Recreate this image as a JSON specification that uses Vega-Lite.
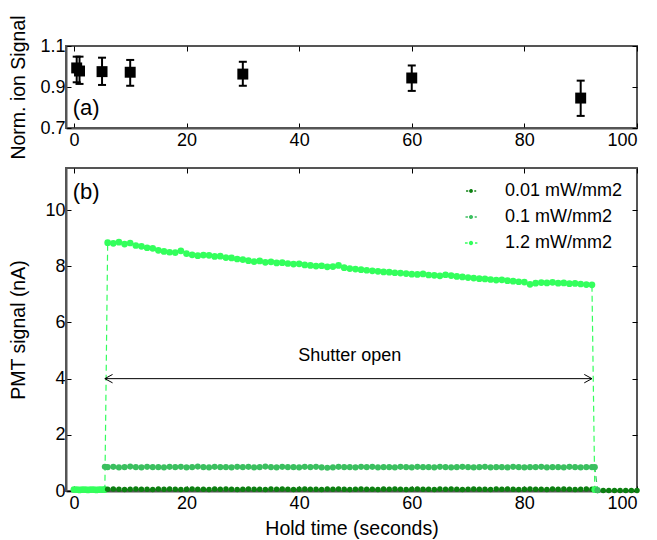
{
"$schema": "https://vega.github.io/schema/vega-lite/v6.json",
"background": "white",
"padding": {"left": 6, "top": 13, "right": 15, "bottom": 5},
"bounds": "flush",
"spacing": 40,
"config": {
  "font": "Liberation Sans",
  "view": {"stroke": "#555555", "strokeWidth": 2},
  "axis": {"labelFont": "Liberation Sans", "labelFontSize": 18, "labelColor": "black", "titleFont": "Liberation Sans", "titleFontSize": 19.5, "titleFontWeight": "normal", "titleColor": "black", "domainColor": "#555555", "domainWidth": 2, "tickColor": "black", "tickSize": -5, "tickWidth": 1, "grid": false, "labelPadding": 6},
  "axisX": {"labelPadding": 8, "titlePadding": 7}
},
"datasets": {
  "ion": [
    {"x": 0.5, "y": 0.993, "lo": 0.923, "hi": 1.048},
    {"x": 1, "y": 0.978, "lo": 0.915, "hi": 1.048},
    {"x": 5, "y": 0.975, "lo": 0.91, "hi": 1.043},
    {"x": 10, "y": 0.972, "lo": 0.906, "hi": 1.032},
    {"x": 30, "y": 0.963, "lo": 0.906, "hi": 1.023},
    {"x": 60, "y": 0.944, "lo": 0.881, "hi": 1.005},
    {"x": 90, "y": 0.846, "lo": 0.759, "hi": 0.931}
  ],
  "pmt": [
    {"t": 0, "p3": 0.05}, {"t": 0.5, "p3": 0.05}, {"t": 1, "p3": 0.04}, {"t": 1.5, "p3": 0.05}, {"t": 2, "p3": 0.05},
    {"t": 2.5, "p3": 0.04}, {"t": 3, "p3": 0.05}, {"t": 3.5, "p3": 0.05}, {"t": 4, "p3": 0.04}, {"t": 4.5, "p3": 0.05}, {"t": 5, "p3": 0.05},
    {"t": 5.5, "p1": 0.06, "p2": 0.86, "p3": 0.05},
    {"t": 6, "p1": 0.06, "p2": 0.85, "p3": 8.84},
    {"t": 7, "p1": 0.07, "p2": 0.86, "p3": 8.82},
    {"t": 8, "p1": 0.06, "p2": 0.84, "p3": 8.86},
    {"t": 9, "p1": 0.05, "p2": 0.85, "p3": 8.79},
    {"t": 10, "p1": 0.06, "p2": 0.87, "p3": 8.83},
    {"t": 11, "p1": 0.07, "p2": 0.85, "p3": 8.74},
    {"t": 12, "p1": 0.06, "p2": 0.84, "p3": 8.71},
    {"t": 13, "p1": 0.06, "p2": 0.86, "p3": 8.66},
    {"t": 14, "p1": 0.05, "p2": 0.85, "p3": 8.64},
    {"t": 15, "p1": 0.07, "p2": 0.85, "p3": 8.57},
    {"t": 16, "p1": 0.06, "p2": 0.84, "p3": 8.53},
    {"t": 17, "p1": 0.07, "p2": 0.86, "p3": 8.50},
    {"t": 18, "p1": 0.06, "p2": 0.85, "p3": 8.49},
    {"t": 19, "p1": 0.05, "p2": 0.86, "p3": 8.55},
    {"t": 20, "p1": 0.06, "p2": 0.84, "p3": 8.45},
    {"t": 21, "p1": 0.07, "p2": 0.85, "p3": 8.41},
    {"t": 22, "p1": 0.06, "p2": 0.87, "p3": 8.38},
    {"t": 23, "p1": 0.06, "p2": 0.85, "p3": 8.40},
    {"t": 24, "p1": 0.05, "p2": 0.84, "p3": 8.39},
    {"t": 25, "p1": 0.07, "p2": 0.86, "p3": 8.35},
    {"t": 26, "p1": 0.06, "p2": 0.85, "p3": 8.36},
    {"t": 27, "p1": 0.07, "p2": 0.85, "p3": 8.31},
    {"t": 28, "p1": 0.06, "p2": 0.84, "p3": 8.30},
    {"t": 29, "p1": 0.05, "p2": 0.86, "p3": 8.26},
    {"t": 30, "p1": 0.06, "p2": 0.85, "p3": 8.24},
    {"t": 31, "p1": 0.07, "p2": 0.86, "p3": 8.20},
    {"t": 32, "p1": 0.06, "p2": 0.84, "p3": 8.17},
    {"t": 33, "p1": 0.06, "p2": 0.85, "p3": 8.19},
    {"t": 34, "p1": 0.05, "p2": 0.87, "p3": 8.14},
    {"t": 35, "p1": 0.07, "p2": 0.85, "p3": 8.16},
    {"t": 36, "p1": 0.06, "p2": 0.84, "p3": 8.12},
    {"t": 37, "p1": 0.07, "p2": 0.86, "p3": 8.13},
    {"t": 38, "p1": 0.06, "p2": 0.85, "p3": 8.10},
    {"t": 39, "p1": 0.05, "p2": 0.85, "p3": 8.08},
    {"t": 40, "p1": 0.06, "p2": 0.84, "p3": 8.09},
    {"t": 41, "p1": 0.07, "p2": 0.86, "p3": 8.05},
    {"t": 42, "p1": 0.06, "p2": 0.85, "p3": 8.03},
    {"t": 43, "p1": 0.06, "p2": 0.86, "p3": 8.01},
    {"t": 44, "p1": 0.05, "p2": 0.84, "p3": 8.02},
    {"t": 45, "p1": 0.07, "p2": 0.83, "p3": 7.98},
    {"t": 46, "p1": 0.06, "p2": 0.84, "p3": 7.99},
    {"t": 47, "p1": 0.07, "p2": 0.86, "p3": 8.03},
    {"t": 48, "p1": 0.06, "p2": 0.85, "p3": 7.95},
    {"t": 49, "p1": 0.05, "p2": 0.85, "p3": 7.92},
    {"t": 50, "p1": 0.06, "p2": 0.84, "p3": 7.90},
    {"t": 51, "p1": 0.07, "p2": 0.86, "p3": 7.88},
    {"t": 52, "p1": 0.06, "p2": 0.85, "p3": 7.86},
    {"t": 53, "p1": 0.06, "p2": 0.86, "p3": 7.84},
    {"t": 54, "p1": 0.05, "p2": 0.84, "p3": 7.82},
    {"t": 55, "p1": 0.07, "p2": 0.85, "p3": 7.80},
    {"t": 56, "p1": 0.06, "p2": 0.85, "p3": 7.79},
    {"t": 57, "p1": 0.07, "p2": 0.84, "p3": 7.77},
    {"t": 58, "p1": 0.06, "p2": 0.86, "p3": 7.76},
    {"t": 59, "p1": 0.05, "p2": 0.85, "p3": 7.74},
    {"t": 60, "p1": 0.06, "p2": 0.84, "p3": 7.72},
    {"t": 61, "p1": 0.07, "p2": 0.86, "p3": 7.71},
    {"t": 62, "p1": 0.06, "p2": 0.85, "p3": 7.73},
    {"t": 63, "p1": 0.06, "p2": 0.85, "p3": 7.69},
    {"t": 64, "p1": 0.05, "p2": 0.84, "p3": 7.68},
    {"t": 65, "p1": 0.07, "p2": 0.86, "p3": 7.66},
    {"t": 66, "p1": 0.06, "p2": 0.85, "p3": 7.70},
    {"t": 67, "p1": 0.07, "p2": 0.84, "p3": 7.67},
    {"t": 68, "p1": 0.06, "p2": 0.85, "p3": 7.64},
    {"t": 69, "p1": 0.05, "p2": 0.86, "p3": 7.62},
    {"t": 70, "p1": 0.06, "p2": 0.85, "p3": 7.60},
    {"t": 71, "p1": 0.07, "p2": 0.84, "p3": 7.58},
    {"t": 72, "p1": 0.06, "p2": 0.85, "p3": 7.56},
    {"t": 73, "p1": 0.06, "p2": 0.86, "p3": 7.55},
    {"t": 74, "p1": 0.05, "p2": 0.84, "p3": 7.53},
    {"t": 75, "p1": 0.07, "p2": 0.85, "p3": 7.51},
    {"t": 76, "p1": 0.06, "p2": 0.85, "p3": 7.52},
    {"t": 77, "p1": 0.07, "p2": 0.84, "p3": 7.49},
    {"t": 78, "p1": 0.06, "p2": 0.86, "p3": 7.47},
    {"t": 79, "p1": 0.05, "p2": 0.85, "p3": 7.45},
    {"t": 80, "p1": 0.06, "p2": 0.84, "p3": 7.44},
    {"t": 81, "p1": 0.07, "p2": 0.85, "p3": 7.36},
    {"t": 82, "p1": 0.06, "p2": 0.85, "p3": 7.40},
    {"t": 83, "p1": 0.06, "p2": 0.86, "p3": 7.42},
    {"t": 84, "p1": 0.05, "p2": 0.84, "p3": 7.41},
    {"t": 85, "p1": 0.07, "p2": 0.85, "p3": 7.43},
    {"t": 86, "p1": 0.06, "p2": 0.85, "p3": 7.40},
    {"t": 87, "p1": 0.07, "p2": 0.84, "p3": 7.41},
    {"t": 88, "p1": 0.06, "p2": 0.86, "p3": 7.38},
    {"t": 89, "p1": 0.05, "p2": 0.85, "p3": 7.39},
    {"t": 90, "p1": 0.06, "p2": 0.84, "p3": 7.37},
    {"t": 91, "p1": 0.07, "p2": 0.85, "p3": 7.35},
    {"t": 92, "p1": 0.06, "p2": 0.85, "p3": 7.34},
    {"t": 92.5, "p1": 0.06, "p2": 0.85, "p3": 0.05},
    {"t": 93, "p1": 0.02, "p2": 0.03},
    {"t": 94, "p1": 0.02}, {"t": 95, "p1": 0.02}, {"t": 96, "p1": 0.02}, {"t": 97, "p1": 0.02},
    {"t": 98, "p1": 0.02}, {"t": 99, "p1": 0.02}, {"t": 100, "p1": 0.02}
  ]
},
"vconcat": [
  {
    "width": 571, "height": 82,
    "resolve": {"axis": {"x": "independent", "y": "independent"}},
    "layer": [
      {"layer": [
        {"data": {"name": "ion"},
         "mark": {"type": "rule", "color": "black", "strokeWidth": 2},
         "encoding": {
           "x": {"field": "x", "type": "quantitative", "scale": {"domain": [-1.4, 100], "nice": false, "zero": false}, "axis": {"values": [0, 20, 40, 60, 80, 100], "title": null}},
           "y": {"field": "lo", "type": "quantitative", "scale": {"domain": [0.7, 1.1], "nice": false, "zero": false}, "axis": {"values": [0.7, 0.9, 1.1], "format": ".1f", "title": "Norm. ion Signal", "titleX": -38}},
           "y2": {"field": "hi"}}},
        {"data": {"name": "ion"},
         "mark": {"type": "tick", "orient": "horizontal", "size": 8, "thickness": 2, "color": "black", "opacity": 1},
         "encoding": {"x": {"field": "x", "type": "quantitative"}, "y": {"field": "lo", "type": "quantitative"}}},
        {"data": {"name": "ion"},
         "mark": {"type": "tick", "orient": "horizontal", "size": 8, "thickness": 2, "color": "black", "opacity": 1},
         "encoding": {"x": {"field": "x", "type": "quantitative"}, "y": {"field": "hi", "type": "quantitative"}}},
        {"data": {"name": "ion"},
         "mark": {"type": "point", "shape": "square", "filled": true, "size": 120, "color": "black", "opacity": 1},
         "encoding": {"x": {"field": "x", "type": "quantitative"}, "y": {"field": "y", "type": "quantitative"}}},
        {"data": {"values": [{}]},
         "mark": {"type": "text", "text": "(a)", "align": "left", "baseline": "middle", "fontSize": 22, "fontWeight": "normal", "color": "black"},
         "encoding": {"x": {"datum": -0.2}, "y": {"datum": 0.8}}}
      ]},
      {"data": {"values": [{}]},
       "mark": {"type": "point", "opacity": 0},
       "encoding": {
         "x": {"datum": 50, "type": "quantitative", "axis": {"orient": "top", "labels": false, "title": null, "domain": false, "values": [0, 20, 40, 60, 80, 100]}},
         "y": {"datum": 0.9, "type": "quantitative", "axis": {"orient": "right", "labels": false, "title": null, "domain": false, "values": [0.7, 0.9, 1.1]}}}}
    ]
  },
  {
    "width": 571, "height": 323,
    "resolve": {"axis": {"x": "independent", "y": "independent"}},
    "layer": [
      {"layer": [
        {"data": {"name": "pmt"},
         "transform": [{"fold": ["p1", "p2", "p3"], "as": ["series", "value"]}],
         "mark": {"type": "line", "strokeDash": [6, 4], "strokeWidth": 1.2},
         "encoding": {
           "x": {"field": "t", "type": "quantitative", "scale": {"domain": [-1.4, 100], "nice": false, "zero": false}, "axis": {"values": [0, 20, 40, 60, 80, 100], "title": "Hold time (seconds)"}},
           "y": {"field": "value", "type": "quantitative", "scale": {"domain": [0, 11.5], "nice": false}, "axis": {"values": [0, 2, 4, 6, 8, 10], "title": "PMT signal (nA)", "titleX": -38}},
           "color": {"field": "series", "type": "nominal",
             "scale": {"domain": ["p1", "p2", "p3"], "range": ["#0c7f10", "#3bbf5f", "#33ff5c"]},
             "legend": {"title": null, "orient": "none", "legendX": 396, "legendY": 136, "padding": 0,
               "symbolType": "M-1.8,0L-1,0M1.2,0L1.9,0M0.42,0A0.42,0.42,0,1,1,-0.42,0A0.42,0.42,0,1,1,0.42,0Z",
               "symbolSize": 400, "symbolStrokeWidth": 1.5, "labelFont": "Liberation Sans", "labelFontSize": 18, "labelColor": "black",
               "labelOffset": 25, "rowPadding": 8,
               "labelExpr": "datum.value == 'p1' ? '0.01 mW/mm2' : datum.value == 'p2' ? '0.1 mW/mm2' : '1.2 mW/mm2'",
               "encode": {"symbols": {"update": {"size": {"value": 400}, "fill": {"scale": "color", "field": "value"}, "stroke": {"scale": "color", "field": "value"}, "strokeDash": {"value": [1, 0]}, "strokeWidth": {"value": 1.5}, "opacity": {"value": 1}}}}}}
         }},
        {"data": {"name": "pmt"},
         "transform": [{"fold": ["p1", "p2", "p3"], "as": ["series", "value"]}],
         "mark": {"type": "point", "filled": true, "opacity": 1},
         "encoding": {
           "x": {"field": "t", "type": "quantitative"},
           "y": {"field": "value", "type": "quantitative"},
           "color": {"field": "series", "type": "nominal"},
           "size": {"field": "series", "type": "ordinal", "scale": {"domain": ["p1", "p2", "p3"], "range": [30, 45, 70]}, "legend": null}
         }},
        {"data": {"values": [{}]},
         "mark": {"type": "rule", "color": "black", "strokeWidth": 1},
         "encoding": {"x": {"datum": 5.5}, "x2": {"datum": 92}, "y": {"datum": 4}}},
        {"data": {"values": [{}]},
         "mark": {"type": "point", "shape": "M1.1,-0.6L0,0L1.1,0.6", "filled": false, "color": "black", "strokeWidth": 1, "size": 196, "opacity": 1},
         "encoding": {"x": {"datum": 5.5}, "y": {"datum": 4}}},
        {"data": {"values": [{}]},
         "mark": {"type": "point", "shape": "M-1.1,-0.6L0,0L-1.1,0.6", "filled": false, "color": "black", "strokeWidth": 1, "size": 196, "opacity": 1},
         "encoding": {"x": {"datum": 92}, "y": {"datum": 4}}},
        {"data": {"values": [{}]},
         "mark": {"type": "text", "text": "Shutter open", "align": "center", "baseline": "middle", "fontSize": 18, "color": "black"},
         "encoding": {"x": {"datum": 49}, "y": {"datum": 4.79}}},
        {"data": {"values": [{}]},
         "mark": {"type": "text", "text": "(b)", "align": "left", "baseline": "middle", "fontSize": 22, "fontWeight": "normal", "color": "black"},
         "encoding": {"x": {"datum": -0.2}, "y": {"datum": 10.64}}}
      ]},
      {"data": {"values": [{}]},
       "mark": {"type": "point", "opacity": 0},
       "encoding": {
         "x": {"datum": 50, "type": "quantitative", "axis": {"orient": "top", "labels": false, "title": null, "domain": false, "values": [0, 20, 40, 60, 80, 100]}},
         "y": {"datum": 5, "type": "quantitative", "axis": {"orient": "right", "labels": false, "title": null, "domain": false, "values": [0, 2, 4, 6, 8, 10]}}}}
    ]
  }
]
}
